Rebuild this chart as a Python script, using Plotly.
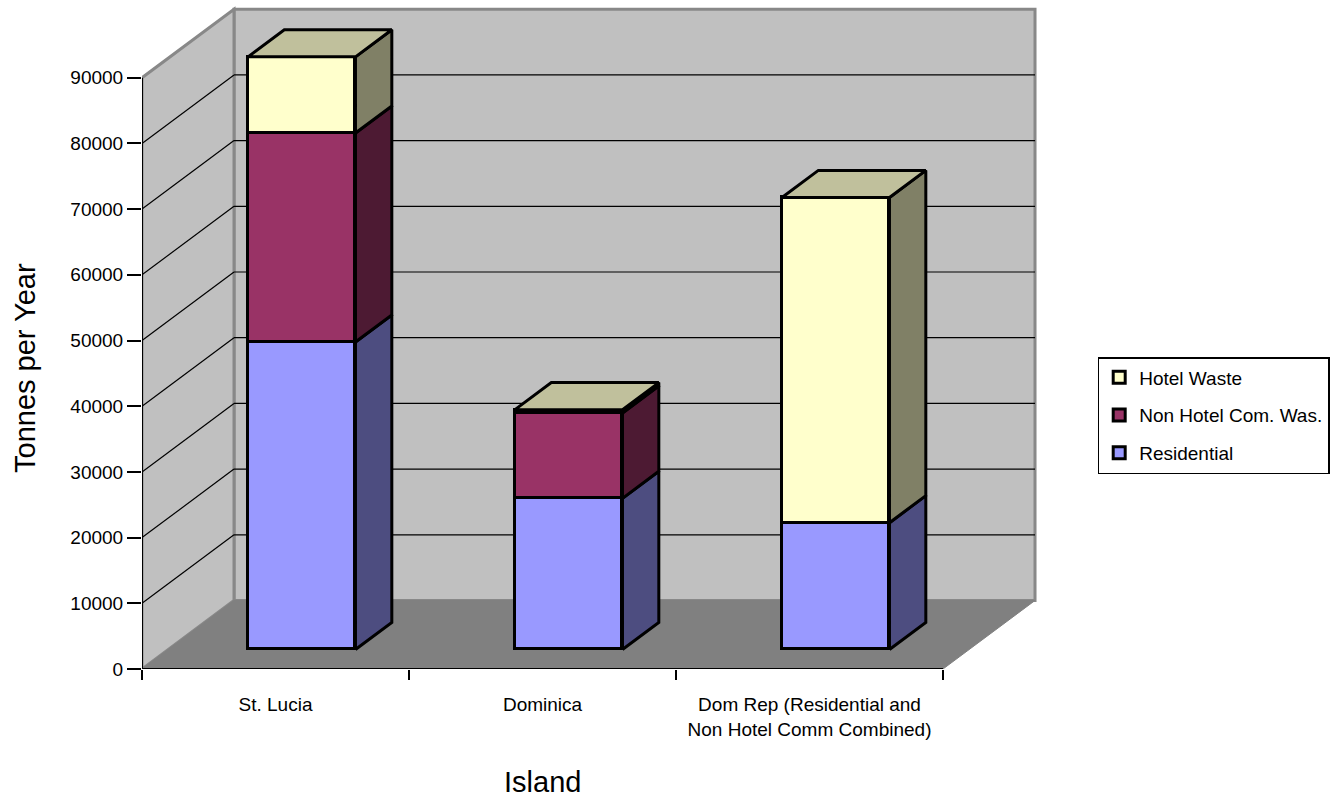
import plotly.graph_objects as go

# ---- data -------------------------------------------------------------
islands = ["St. Lucia", "Dominica", "Dom Rep (Residential and<br>Non Hotel Comm Combined)"]
residential = [46800, 23000, 19300]
non_hotel = [31800, 13000, 0]
hotel = [11600, 500, 49500]
y_ticks = list(range(0, 90001, 10000))
y_tick_text = [str(v) for v in y_ticks]

# (name, values, front colour, side colour, legend rank)
series = [
    ("Residential", residential, "#9999FF", "#4D4D80", 3),
    ("Non Hotel Com. Was.", non_hotel, "#993366", "#4D1A33", 2),
    ("Hotel Waste", hotel, "#FFFFCC", "#808066", 1),
]
TOP_COLOR = "#C0C09C"
WALL_COLOR = "#C0C0C0"
FLOOR_COLOR = "#808080"
EDGE_GRAY = "#888888"

# ---- pseudo-3D geometry (in axis units) -------------------------------
N = len(islands)
DEPTH_X = 0.3446          # how far the back wall sits to the right
DEPTH_Y = 10426           # how far the back wall sits upwards
X_RANGE = 3.367
Y_RANGE = 100913
BAR_W = 0.4026
F_FRONT = 0.285           # depth fraction of the bar front face
F_BACK = 0.68             # depth fraction of the bar back face
Y_TOP = y_ticks[-1]

centers = [i + 0.5 for i in range(N)]
front_dx, front_dy = F_FRONT * DEPTH_X, F_FRONT * DEPTH_Y
side_dx, side_dy = (F_BACK - F_FRONT) * DEPTH_X, (F_BACK - F_FRONT) * DEPTH_Y


def path(points):
    return "M " + " L ".join(f"{x},{y}" for x, y in points) + " Z"


shapes = []
# back wall
shapes.append(dict(type="path", xref="x", yref="y", layer="below",
                   path=path([(DEPTH_X, DEPTH_Y), (N + DEPTH_X, DEPTH_Y),
                              (N + DEPTH_X, Y_TOP + DEPTH_Y), (DEPTH_X, Y_TOP + DEPTH_Y)]),
                   fillcolor=WALL_COLOR, line=dict(color=EDGE_GRAY, width=3)))
# side wall
shapes.append(dict(type="path", xref="x", yref="y", layer="below",
                   path=path([(0, 0), (DEPTH_X, DEPTH_Y),
                              (DEPTH_X, Y_TOP + DEPTH_Y), (0, Y_TOP)]),
                   fillcolor=WALL_COLOR, line=dict(color=EDGE_GRAY, width=3)))
# floor
shapes.append(dict(type="path", xref="x", yref="y", layer="below",
                   path=path([(0, 0), (N, 0), (N + DEPTH_X, DEPTH_Y), (DEPTH_X, DEPTH_Y)]),
                   fillcolor=FLOOR_COLOR, line=dict(color=FLOOR_COLOR, width=1)))
# gridlines on both walls
for v in y_ticks[1:-1]:
    shapes.append(dict(type="line", xref="x", yref="y", layer="below",
                       x0=DEPTH_X, y0=v + DEPTH_Y, x1=N + DEPTH_X, y1=v + DEPTH_Y,
                       line=dict(color="black", width=1.2)))
    shapes.append(dict(type="line", xref="x", yref="y", layer="below",
                       x0=0, y0=v, x1=DEPTH_X, y1=v + DEPTH_Y,
                       line=dict(color="black", width=1.2)))

fig = go.Figure()

# front faces of the stacked columns
cum = [0] * N
bases = []
for name, vals, front, side, rank in series:
    bases.append(list(cum))
    fig.add_trace(go.Bar(
        x=[c + front_dx for c in centers], y=vals,
        base=[front_dy + b for b in cum],
        width=BAR_W, name=name, legendgroup=name, legendrank=rank,
        marker=dict(color=front, line=dict(color="black", width=3)),
        hoverinfo="skip",
    ))
    cum = [b + v for b, v in zip(cum, vals)]
totals = cum

# side faces
for (name, vals, front, side, rank), base in zip(series, bases):
    xs, ys = [], []
    for c, b, v in zip(centers, base, vals):
        if v <= 0:
            continue
        xr = c + front_dx + BAR_W / 2
        y0 = front_dy + b
        y1 = y0 + v
        xs += [xr, xr + side_dx, xr + side_dx, xr, xr, None]
        ys += [y0, y0 + side_dy, y1 + side_dy, y1, y0, None]
    fig.add_trace(go.Scatter(x=xs, y=ys, mode="lines", fill="toself",
                             fillcolor=side, line=dict(color="black", width=3),
                             showlegend=False, hoverinfo="skip"))

# top faces
xs, ys = [], []
for c, t in zip(centers, totals):
    xl = c + front_dx - BAR_W / 2
    xr = c + front_dx + BAR_W / 2
    yt = front_dy + t
    xs += [xl, xr, xr + side_dx, xl + side_dx, xl, None]
    ys += [yt, yt, yt + side_dy, yt + side_dy, yt, None]
fig.add_trace(go.Scatter(x=xs, y=ys, mode="lines", fill="toself",
                         fillcolor=TOP_COLOR, line=dict(color="black", width=3),
                         showlegend=False, hoverinfo="skip"))

# axis lines along the front edge
fig.add_trace(go.Scatter(x=[0, 0], y=[0, Y_TOP], mode="lines",
                         line=dict(color="black", width=2), cliponaxis=False,
                         showlegend=False, hoverinfo="skip"))
fig.add_trace(go.Scatter(x=[0, N], y=[0, 0], mode="lines",
                         line=dict(color="black", width=2), cliponaxis=False,
                         showlegend=False, hoverinfo="skip"))

FONT = "Liberation Sans, Arial, sans-serif"
L, R, T, B = 142, 300, 6, 134
plot_w = 1341 - L - R
plot_h = 803 - T - B

fig.update_layout(
    width=1341, height=803,
    margin=dict(l=L, r=R, t=T, b=B),
    paper_bgcolor="white", plot_bgcolor="white",
    barmode="overlay", bargap=0,
    font=dict(family=FONT, size=19, color="black"),
    shapes=shapes,
    showlegend=True,
    legend=dict(
        x=(1097.7 - L) / plot_w, y=(669 - 357) / plot_h,
        xanchor="left", yanchor="top",
        traceorder="grouped", tracegroupgap=10,
        bgcolor="white", bordercolor="black", borderwidth=1.5,
        font=dict(family=FONT, size=19, color="black"),
    ),
    xaxis=dict(
        range=[0, X_RANGE], showgrid=False, zeroline=False, showline=False,
        tickmode="array", tickvals=centers, ticktext=islands, ticks="",
        ticklabelstandoff=22,
        tickfont=dict(family=FONT, size=19, color="black"),
        minor=dict(tickmode="array", tickvals=list(range(N + 1)), ticks="outside",
                   ticklen=10, tickwidth=2, tickcolor="black", showgrid=False),
        fixedrange=True,
    ),
    yaxis=dict(
        range=[0, Y_RANGE], showgrid=False, zeroline=False, showline=False,
        tickmode="array", tickvals=y_ticks, ticktext=y_tick_text, ticks="outside",
        ticklen=14, tickwidth=2, tickcolor="black",
        tickfont=dict(family=FONT, size=19, color="black"),
        fixedrange=True,
    ),
    annotations=[
        dict(text="Tonnes per Year", xref="paper", yref="paper",
             x=(25 - L) / plot_w, y=(669 - 368) / plot_h, textangle=-90,
             showarrow=False, font=dict(family=FONT, size=29, color="black"),
             xanchor="center", yanchor="middle"),
        dict(text="Island", xref="paper", yref="paper",
             x=(542 - L) / plot_w, y=(669 - 782) / plot_h,
             showarrow=False, font=dict(family=FONT, size=29, color="black"),
             xanchor="center", yanchor="middle"),
    ],
)

fig.write_html("out.html")
